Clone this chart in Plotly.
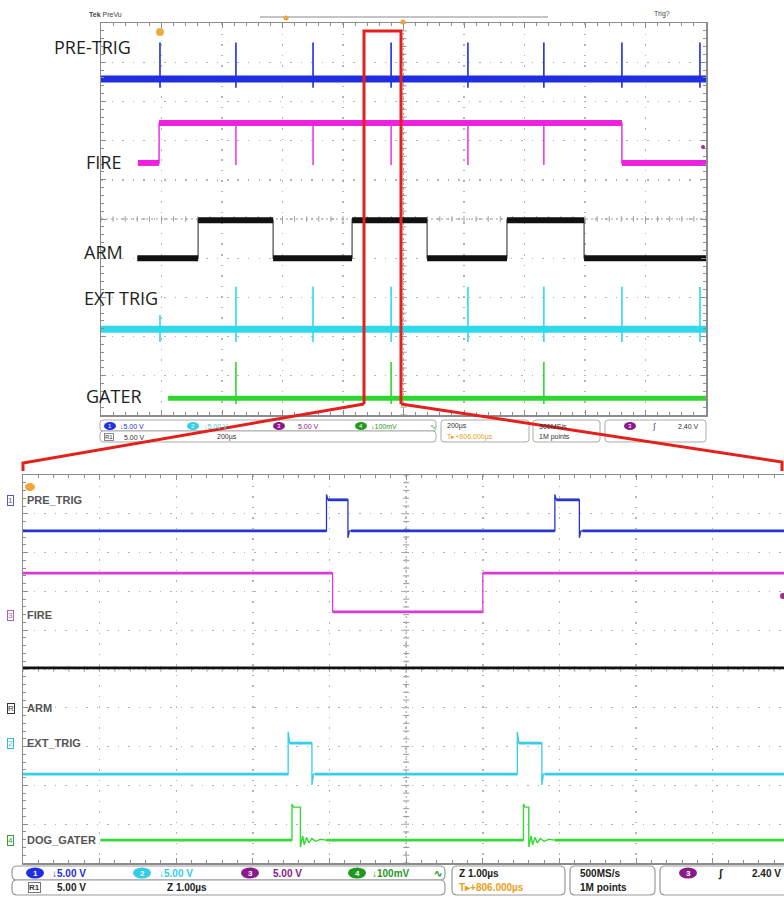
import plotly.graph_objects as go

W, H = 784, 897

# ===== Overview capture (200 us/div, trigger at 0 us); vertical values in screen divisions =====
top_time_range = [-1000, 1000]
pre_trig_spike_us = [-805, -554, -299, -41, 213, 464, 722, 980]
pre_trig_top_levels = [8.57, 9.50, 8.35]          # baseline, spike peak, spike dip
fire_top_times = [-878, -808, 722, 1000]          # trace start, rise, fall, end
fire_top_levels = [6.43, 7.45, 6.38]              # low, high, dip
fire_top_dip_us = [-554, -299, -41, 213, 464]
arm_top_start = -880
arm_top_edges_us = [-679, -431, -170, 78, 342, 597]
arm_top_levels = [4.00, 4.97]                     # low, high
ext_trig_spike_us = [-554, -299, -41, 213, 464, 722, 980]
ext_trig_small_us = [-805]
ext_trig_top_levels = [2.19, 3.27, 2.55, 1.86]    # baseline, peak, small peak, dip
gater_top_start = -778
gater_spike_us = [-554, -41, 464]
gater_top_levels = [0.43, 1.35, 0.28]             # baseline, peak, dip

# ===== Zoomed capture (1 us/div) =====
bot_time_range = [-5.0, 4.93]
pre_trig_pulses_us = [(-1.04, -0.76), (1.94, 2.26)]
pre_trig_bot_levels = [8.56, 9.36, 9.50, 8.38]    # base, high, overshoot, undershoot
fire_bot_low_us = [-0.96, 1.00]
fire_bot_levels = [7.47, 6.47]                    # high, low
arm_bot_level = 5.03
ext_trig_pulses_us = [(-1.54, -1.23), (1.45, 1.77)]
ext_trig_bot_levels = [2.29, 3.09, 3.38, 2.01]    # base, high, overshoot, undershoot
gater_bot_start = -3.99
gater_pulses_us = [(-1.49, -1.38), (1.53, 1.60)]
gater_bot_levels = [0.59, 1.44, 1.52]             # base, high, overshoot
gater_ring_dt_us = [0.01, 0.03, 0.05, 0.08, 0.11, 0.15, 0.20, 0.26, 0.34]
gater_ring_levels = [0.41, 0.70, 0.47, 0.66, 0.52, 0.63, 0.56, 0.61, 0.59]

# colours
C_BLUE, C_MAG, C_BLK, C_CYAN, C_GRN = "#1f2ee0", "#ec22e0", "#111111", "#2fd9ea", "#2fd62f"
C_BLUE2, C_MAG2, C_CYAN2, C_GRN2 = "#2536d0", "#dc3ad8", "#36cdea", "#39d839"
RED = "#e3201b"

fig = go.Figure()


def line(xs, ys, color, width, xa, ya, opacity=1.0):
    fig.add_trace(go.Scatter(x=xs, y=ys, mode="lines", line=dict(color=color, width=width),
                             xaxis=xa, yaxis=ya, hoverinfo="skip", opacity=opacity,
                             connectgaps=False))


# ---------------- overview traces ----------------
t0, t1 = top_time_range
# PRE-TRIG
b, pk, dp = pre_trig_top_levels
xs, ys = [t0], [b]
for t in pre_trig_spike_us:
    xs += [t, t, t, t]; ys += [b, pk, dp, b]
xs.append(t1); ys.append(b)
line(xs, ys, C_BLUE, 1.6, "x", "y")
line([t0, t1], [b, b], C_BLUE, 7, "x", "y")

# FIRE
fs, fr, ff, fe = fire_top_times
lo, hi, dp = fire_top_levels
xs, ys = [fs, fr, fr], [lo, lo, hi]
for t in fire_top_dip_us:
    xs += [t, t, t]; ys += [hi, dp, hi]
xs += [ff, ff, fe]; ys += [hi, lo, lo]
line(xs, ys, C_MAG, 1.4, "x", "y")
line([fs, fr, None, fr, ff, None, ff, fe], [lo, lo, None, hi, hi, None, lo, lo], C_MAG, 6, "x", "y")

# ARM
lo, hi = arm_top_levels
xs, ys = [arm_top_start], [lo]
lvl = lo
seg_x, seg_y = [arm_top_start], [lo]
for e in arm_top_edges_us:
    nxt = hi if lvl == lo else lo
    xs += [e, e]; ys += [lvl, nxt]
    seg_x += [e, None, e]; seg_y += [lvl, None, nxt]
    lvl = nxt
xs.append(t1); ys.append(lvl)
seg_x.append(t1); seg_y.append(lvl)
line(xs, ys, "#555555", 1.3, "x", "y")
line(seg_x, seg_y, C_BLK, 6, "x", "y")

# EXT TRIG
b, pk, sm, dp = ext_trig_top_levels
xs, ys = [t0], [b]
events = sorted([(t, pk) for t in ext_trig_spike_us] + [(t, sm) for t in ext_trig_small_us])
for t, p in events:
    xs += [t, t, t, t]; ys += [b, p, dp, b]
xs.append(t1); ys.append(b)
line(xs, ys, C_CYAN, 1.6, "x", "y")
line([t0, t1], [b, b], C_CYAN, 7, "x", "y")

# GATER
b, pk, dp = gater_top_levels
xs, ys = [gater_top_start], [b]
for t in gater_spike_us:
    xs += [t, t, t, t]; ys += [b, pk, dp, b]
xs.append(t1); ys.append(b)
line(xs, ys, C_GRN, 1.6, "x", "y")
line([gater_top_start, t1], [b, b], C_GRN, 5, "x", "y")

# ---------------- zoomed traces ----------------
u0, u1 = bot_time_range


def pulse_train(x0, x1, base, pulses, high, over, under):
    xs, ys = [x0], [base]
    sx, sy = [x0], [base]
    for a, c in pulses:
        xs += [a, a, a + 0.02, c, c, c + 0.02]
        ys += [base, over, high, high, under, base]
        sx += [a, None, a + 0.02, c, None, c + 0.04]
        sy += [base, None, high, high, None, base]
    xs.append(x1); ys.append(base)
    sx.append(x1); sy.append(base)
    return xs, ys, sx, sy


b, hi, ov, un = pre_trig_bot_levels
xs, ys, sx, sy = pulse_train(u0, u1, b, pre_trig_pulses_us, hi, ov, un)
line(xs, ys, C_BLUE2, 1.3, "x2", "y2")
line(sx, sy, C_BLUE2, 2.8, "x2", "y2")

hi, lo = fire_bot_levels
a, c = fire_bot_low_us
line([u0, a, a, c, c, u1], [hi, hi, lo, lo, hi, hi], C_MAG2, 1.3, "x2", "y2")
line([u0, a, None, a, c, None, c, u1], [hi, hi, None, lo, lo, None, hi, hi], C_MAG2, 2.8, "x2", "y2")

line([u0, u1], [arm_bot_level, arm_bot_level], C_BLK, 2.8, "x2", "y2")

b, hi, ov, un = ext_trig_bot_levels
xs, ys, sx, sy = pulse_train(u0, u1, b, ext_trig_pulses_us, hi, ov, un)
line(xs, ys, C_CYAN2, 1.3, "x2", "y2")
line(sx, sy, C_CYAN2, 2.8, "x2", "y2")

b, hi, ov = gater_bot_levels
xs, ys = [gater_bot_start], [b]
sx, sy = [gater_bot_start], [b]
for a, c in gater_pulses_us:
    xs += [a, a, a + 0.02, c, c]
    ys += [b, ov, hi, hi, gater_ring_levels[0]]
    for dt, v in zip(gater_ring_dt_us[1:], gater_ring_levels[1:]):
        xs.append(c + dt); ys.append(v)
    sx += [a, None, c + gater_ring_dt_us[-1]]
    sy += [b, None, b]
xs.append(u1); ys.append(b)
sx.append(u1); sy.append(b)
line(xs, ys, C_GRN2, 1.4, "x2", "y2")
line(sx, sy, C_GRN2, 2.8, "x2", "y2")

# ---------------- axes / graticule ----------------
GRID = "#b4b4b4"
FRAME = "#8c8c8c"


def ax(domain, rng, dtick, minor, anchor, mirror=True):
    return dict(domain=domain, range=rng, dtick=dtick, tick0=0, anchor=anchor,
                showgrid=True, gridcolor=GRID, gridwidth=1.4, griddash="1.5px,9px",
                zeroline=False, showticklabels=False, ticks="inside", ticklen=5,
                tickcolor=FRAME, showline=True, linecolor=FRAME, linewidth=1.5,
                mirror="allticks" if mirror else False,
                minor=dict(dtick=minor, tick0=0, ticks="inside", ticklen=3, tickcolor=FRAME,
                           showgrid=False),
                fixedrange=True)


fig.update_layout(
    width=W, height=H, margin=dict(l=0, r=0, t=0, b=0),
    paper_bgcolor="white", plot_bgcolor="white", showlegend=False,
    xaxis=ax([101 / W, 706 / W], top_time_range, 200, 40, "y"),
    yaxis=ax([1 - 415 / H, 1 - 23 / H], [0, 10], 1, 0.2, "x"),
    xaxis2=ax([23 / W, 1.0], bot_time_range, 1, 0.2, "y2"),
    yaxis2=ax([1 - 863 / H, 1 - 475 / H], [0, 10], 1, 0.2, "x2", mirror=False),
)

shapes = []


def cross(xref, yref, xr, step_x, half_x, step_y, half_y):
    shapes.append(dict(type="line", xref=xref, yref=yref, x0=0, x1=0, y0=0, y1=10,
                       line=dict(color="#a0a0a0", width=1, dash="2px,3px"), layer="below"))
    shapes.append(dict(type="line", xref=xref, yref=yref, x0=xr[0], x1=xr[1], y0=5, y1=5,
                       line=dict(color="#a0a0a0", width=1, dash="2px,3px"), layer="below"))
    n = int(round(10 / step_y))
    for i in range(n + 1):
        yy = i * step_y
        shapes.append(dict(type="line", xref=xref, yref=yref, x0=-half_x, x1=half_x, y0=yy, y1=yy,
                           line=dict(color="#9a9a9a", width=1), layer="below"))
    k = int(round((xr[1] - xr[0]) / step_x))
    for i in range(k + 1):
        xx = xr[0] + i * step_x
        shapes.append(dict(type="line", xref=xref, yref=yref, x0=xx, x1=xx, y0=5 - half_y, y1=5 + half_y,
                           line=dict(color="#9a9a9a", width=1), layer="below"))


cross("x", "y", [-1000, 1000], 40, 10, 0.2, 0.07)
cross("x2", "y2", [-5, 5], 0.2, 0.04, 0.2, 0.07)


def P(x, y):
    return x / W, 1 - y / H


def pp(x, y):
    a, c = P(x, y)
    return f"{a:.5f},{c:.5f}"


def rrect(x0, y0, x1, y1, r=4, color="#9a9a9a", width=1):
    path = (f"M {pp(x0 + r, y0)} L {pp(x1 - r, y0)} Q {pp(x1, y0)} {pp(x1, y0 + r)} "
            f"L {pp(x1, y1 - r)} Q {pp(x1, y1)} {pp(x1 - r, y1)} L {pp(x0 + r, y1)} "
            f"Q {pp(x0, y1)} {pp(x0, y1 - r)} L {pp(x0, y0 + r)} Q {pp(x0, y0)} {pp(x0 + r, y0)} Z")
    shapes.append(dict(type="path", xref="paper", yref="paper", path=path,
                       line=dict(color=color, width=width), fillcolor="white"))


def dot(cx, cy, w, h, color):
    a0, b0 = P(cx - w / 2, cy + h / 2)
    a1, b1 = P(cx + w / 2, cy - h / 2)
    shapes.append(dict(type="circle", xref="paper", yref="paper", x0=a0, y0=b0, x1=a1, y1=b1,
                       fillcolor=color, line=dict(width=0)))


def T(x, y, s, size, color, anchor="left", family="Liberation Sans", **kw):
    a, c = P(x, y)
    fig.add_annotation(x=a, y=c, xref="paper", yref="paper", text=s, showarrow=False,
                       xanchor=anchor, yanchor="middle",
                       font=dict(size=size, color=color, family=family), **kw)


# header of overview
shapes.append(dict(type="line", xref="paper", yref="paper", x0=P(260, 17)[0], x1=P(548, 17)[0],
                   y0=P(0, 17)[1], y1=P(0, 17)[1], line=dict(color="#c4c4c4", width=2)))
dot(286, 18, 5, 5, "#f0a43a")
dot(403, 22, 5, 5, "#f0a43a")
dot(160, 32, 8, 8, "#f0aa44")
dot(703, 147, 4, 4, "#a0308a")
T(87, 14, "<b>Tek</b> PreVu", 7, "#444")
T(672, 14, "Trig?", 7, "#444", anchor="right")

# zoomed panel markers
dot(30, 487, 10, 8, "#f0a43a")
dot(783, 596, 6, 6, "#a0308a")

# overview labels
for s, x, y in [("PRE-TRIG", 52, 47), ("FIRE", 84, 162), ("ARM", 82, 252),
                ("EXT TRIG", 82, 298), ("GATER", 84, 396)]:
    T(x, y, s, 18, "#1e1e1e", family="Open Sans")

# zoomed labels with channel badges
for badge, bcol, s, y in [("1", "#5a5aa8", "PRE_TRIG", 500), ("3", "#b060b0", "FIRE", 615),
                          ("R", "#333333", "ARM", 708), ("2", "#33bbd8", "EXT_TRIG", 743),
                          ("4", "#3a9a3a", "DOG_GATER", 840)]:
    T(7, y, badge, 8, bcol, bordercolor=bcol, borderwidth=1, borderpad=0)
    T(25, y, f"<b>{s}</b>", 11, "#555555", family="Liberation Sans")

# ---------- overview status bar ----------
rrect(100, 420, 436, 431, 3, "#aaaaaa")
rrect(100, 431, 436, 442, 3, "#aaaaaa")
rrect(441, 420, 529, 442, 3, "#aaaaaa")
rrect(533, 420, 600, 442, 3, "#aaaaaa")
rrect(605, 420, 706, 442, 3, "#aaaaaa")
for cx, col, num, tx, s in [(110, "#2233dd", "1", 118, "↓5.00 V"), (193, "#33d0e6", "2", 202, "↓5.00 V"),
                            (279, "#8a1a8a", "3", 296, "5.00 V"), (361, "#1e9a1e", "4", 369, "↓100mV")]:
    dot(cx, 426, 12, 8, col)
    T(cx, 426, num, 6, "white", anchor="center")
    T(tx, 426, s, 7, col)
T(428, 426, "∿", 7, "#1e9a1e")
T(104, 437, "R1", 6, "#333", bordercolor="#888", borderwidth=1, borderpad=0)
T(122, 437, "5.00 V", 7, "#333")
T(215, 437, "200µs", 7, "#333")
T(445, 426, "200µs", 7, "#333")
T(445, 437, "T▸+806.000µs", 7, "#e8a020")
T(537, 426, "500MS/s", 7, "#333")
T(537, 437, "1M points", 7, "#333")
dot(630, 426, 12, 8, "#8a1a8a")
T(630, 426, "3", 6, "white", anchor="center")
T(650, 426, "∫", 8, "#333")
T(701, 426, "2.40 V", 7, "#333", anchor="right")

# ---------- zoomed status bar ----------
rrect(12, 866, 445, 880, 5, "#9a9a9a", 1.2)
rrect(12, 880, 445, 895, 5, "#9a9a9a", 1.2)
rrect(452, 866, 565, 895, 5, "#9a9a9a", 1.2)
rrect(570, 866, 655, 895, 5, "#9a9a9a", 1.2)
rrect(660, 866, 792, 895, 5, "#9a9a9a", 1.2)
for cx, col, num, tx, s in [(35, "#1f2ee0", "1", 50, "↓5.00 V"), (142, "#30cde6", "2", 157, "↓5.00 V"),
                            (250, "#8a1a8a", "3", 271, "5.00 V"), (357, "#1e9a1e", "4", 370, "↓100mV")]:
    dot(cx, 873, 18, 11, col)
    T(cx, 873, f"<b>{num}</b>", 8, "white", anchor="center")
    T(tx, 873, f"<b>{s}</b>", 10, col)
T(432, 873, "<b>∿</b>", 10, "#1e9a1e")
T(28, 887, "<b>R1</b>", 8, "#333", bordercolor="#777", borderwidth=1, borderpad=0)
T(55, 887, "<b>5.00 V</b>", 10, "#222")
T(165, 887, "<b>Z 1.00µs</b>", 10, "#222")
T(457, 873, "<b>Z 1.00µs</b>", 10, "#222")
T(457, 887, "<b>T▸+806.000µs</b>", 10, "#e8a020")
T(578, 873, "<b>500MS/s</b>", 10, "#222")
T(578, 887, "<b>1M points</b>", 10, "#222")
dot(688, 873, 18, 11, "#8a1a8a")
T(688, 873, "<b>3</b>", 8, "white", anchor="center")
T(716, 873, "<b>∫</b>", 11, "#222")
T(783, 873, "<b>2.40 V</b>", 10, "#222", anchor="right")

# ---------- red zoom overlay ----------
for pts in [[(364, 404), (364, 31), (401, 31), (401, 404)],
            [(364, 404), (23, 463), (23, 471)],
            [(401, 404), (782, 462), (782, 471)]]:
    path = "M " + " L ".join(pp(x, y) for x, y in pts)
    shapes.append(dict(type="path", xref="paper", yref="paper", path=path,
                       line=dict(color=RED, width=3)))

fig.update_layout(shapes=shapes)
fig.write_html("out.html", config={"displayModeBar": False, "staticPlot": True},
               post_script="document.body.style.margin='0px';document.body.style.overflow='hidden';")
